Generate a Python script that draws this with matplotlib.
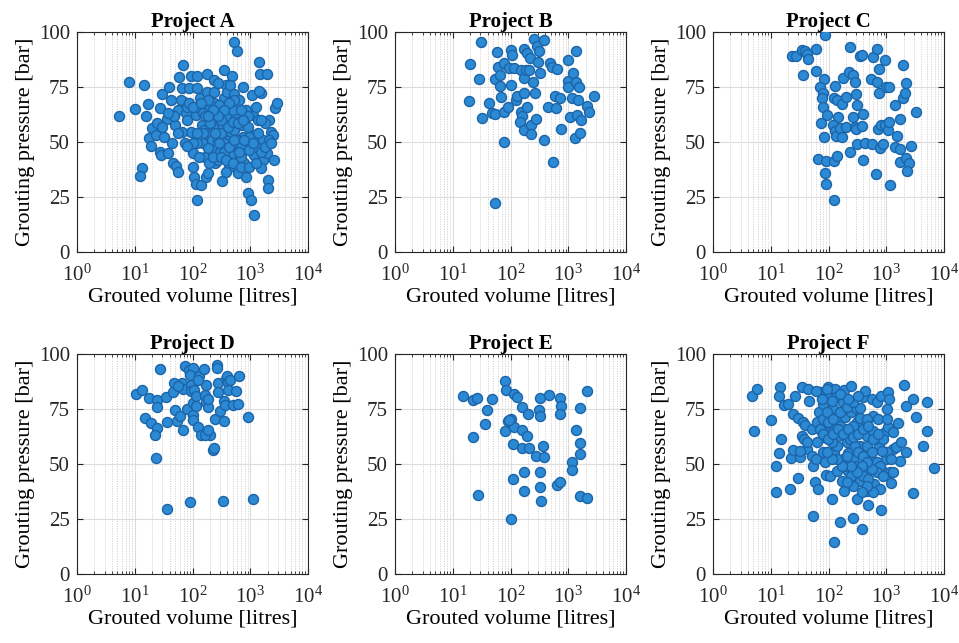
import matplotlib
matplotlib.use('Agg')
import matplotlib.pyplot as plt
from matplotlib.ticker import LogLocator, FixedLocator, NullLocator

plt.rcParams['font.family'] = ['Liberation Serif', 'DejaVu Serif']
plt.rcParams['mathtext.fontset'] = 'custom'
plt.rcParams['mathtext.rm'] = 'Liberation Serif'
plt.rcParams['mathtext.it'] = 'Liberation Serif:italic'
plt.rcParams['mathtext.bf'] = 'Liberation Serif:bold'

# --- data (volume in litres, pressure in bar) ---
a_volume = [5.4, 7.9, 10.2, 14.4, 15.4, 16.9, 13.3, 12.3, 19.9, 18, 19.4, 23, 24.6, 27.5, 30,
            27.5, 28, 32, 35.7, 39.3, 42, 37.7, 44.9, 45.5, 52.7, 55, 50, 55, 58.5, 64.5,
            69.5, 71.7, 76, 73.5, 81, 87.3, 93.5, 96, 101, 101, 107, 115, 122, 113, 120,
            122, 134, 144, 139, 155, 163, 170, 178, 178, 182, 198, 209, 233, 238, 245,
            233, 254, 272, 302, 318, 328, 355, 346, 380, 395, 405, 418, 435, 464, 490,
            516, 528, 589, 545, 568, 568, 605, 648, 693, 740, 770, 770, 845, 906, 1030,
            1180, 1070, 1100, 1100, 1180, 1260, 1350, 1440, 1500, 1550, 1650, 1650, 1550, 1960, 1960,
            2000, 2000, 2150, 2300, 2500, 2560, 2630, 2870, 1440, 63, 81, 122, 149, 160, 195,
            214, 272, 310, 355, 405, 500, 605, 528, 272, 195, 131, 122, 100, 693, 906,
            906, 845, 740, 452, 290, 500, 222, 182, 310, 67, 55, 48, 37, 30, 87,
            238, 272, 970, 1260, 1770, 2150, 380, 81, 182, 693,
            100, 139, 163, 203, 245, 290, 355, 435, 528, 648, 790, 970, 1100, 1350, 1550,
            906, 693, 528, 435, 355, 272, 222, 182, 149, 122, 182, 222, 310, 380, 500,
            693, 970, 1260, 1550, 1800, 2300, 405, 500, 605, 740]
a_pressure = [62, 77.4, 65.2, 75.8, 61.6, 67.2, 38.3, 34.7, 56.2, 51.7, 48.3, 53.2, 58.5, 65.3, 71.7,
              45.6, 44.1, 52.4, 60.3, 75.2, 69.1, 44.8, 49.7, 40.3, 39.2, 36.2, 57.8, 64.6, 79.5, 74.5,
              85.1, 68.4, 63.1, 49.4, 60, 74.5, 54.7, 80.2, 44.8, 38.8, 34.2, 30.9, 23.6, 62.3, 74.5,
              80.1, 69.9, 57.8, 30.4, 49.4, 43.3, 34.2, 81, 72.9, 64.6, 52.4, 60, 67.6, 47.1, 40.3,
              72.6, 63.1, 57, 45.6, 32.4, 63.1, 82.5, 69.9, 76, 72.9, 61.6, 50.9, 38.8, 54.7, 80.1,
              71.9, 95.3, 91.2, 63.1, 47.1, 42.1, 35.7, 69.1, 57.8, 52.4, 47.9, 40.3, 34.2, 26.9, 23.6,
              16.7, 71.4, 62.3, 53.2, 44.1, 65.8, 60, 86.2, 81, 72.2, 50.9, 41.8, 38, 81, 44.8,
              32.7, 29.2, 60, 54.7, 53.2, 41.8, 65.3, 67.6, 73, 69.1, 66.1, 66.1, 63.1, 55.5, 54.7,
              50.9, 50.9, 54, 49.4, 44.1, 44.8, 50.9, 55.5, 41.8, 40.3, 43.3, 49.4, 49.4, 43.3, 47.9,
              57, 64.6, 75.2, 76, 66.9, 64.6, 57, 69.1, 60, 54.7, 54, 61.6, 63.1, 57, 67.6,
              78.3, 76.7, 52.4, 47.9, 58.5, 50.9, 36.5, 48, 35.7, 47.9,
              66.1, 67.6, 61.6, 58.5, 54, 49.4, 45.6, 47.9, 50.9, 45.6, 50.9, 46.4, 49.4, 54, 60,
              61.6, 64.6, 69.1, 67.6, 64.6, 61.6, 64.6, 61.6, 54, 54, 47.1, 43.3, 43.3, 41.8, 40.3,
              38.8, 38.8, 40.3, 45.6, 47.9, 49.4, 57, 59.3, 58.5, 60]

b_volume = [20, 30.6, 19.5, 29, 32, 43, 48, 53.5, 53.5, 58, 61, 64.5, 64.5, 69, 76,
            76, 78, 54, 93, 91, 101, 105, 101, 115, 123, 129, 155, 169, 169, 173,
            192, 182, 149, 158, 190, 147, 169, 210, 214, 223, 225, 247, 251, 264, 274,
            289, 298, 306, 318, 373, 373, 444, 487, 526, 540, 578, 603, 635, 725, 755,
            980, 980, 980, 1080, 1140, 1200, 1340, 1310, 1340, 1410, 1490, 1520, 1570, 1650, 2100,
            2250, 2830]
b_pressure = [85.4, 95.3, 68.8, 78.7, 60.8, 67.9, 63, 62.6, 78.7, 91, 84.3, 80.4, 75.5, 70.4, 85.9,
              63.8, 50.2, 22.3, 83.6, 66.1, 91.6, 89.7, 76, 83.6, 69.1, 71, 82.8, 79, 72.5, 92.2,
              90.4, 82.8, 63.5, 62, 65.8, 59, 55.5, 82.5, 88.1, 57.6, 53.6, 77.5, 96.8, 72.2, 60.6,
              93.8, 86.5, 91.5, 81.5, 96.2, 50.9, 66.1, 85.9, 84, 41, 70.7, 65.3, 83.1, 69.9, 55.8,
              87.4, 77.8, 74.8, 61.5, 69.9, 81.3, 91.5, 51.8, 77.5, 62.3, 69.1, 75.2, 54, 60, 66.4,
              63.8, 71.1]

c_volume = [23.8, 27.9, 35.4, 38.9, 41.6, 44.6, 36.3, 61.9, 60.3, 85.3, 83, 70.9, 81, 76.6, 81,
            92.5, 72.8, 83, 66, 89.5, 86.5, 89.5, 123, 125, 141, 131, 124, 138, 148, 120,
            131, 134, 157, 174, 168, 179, 199, 204, 229, 240, 234, 268, 286, 268, 286,
            297, 307, 315, 297, 349, 379, 379, 388, 398, 433, 557, 536, 578, 680, 696,
            662, 720, 740, 760, 777, 820, 890, 950, 960, 986, 1130, 1080, 1130, 1150, 1420,
            1420, 1510, 1730, 1730, 1730, 1920, 1970, 2140, 2240, 2190, 2500, 2300, 2710, 3230]
c_pressure = [89.2, 88.9, 91.9, 91.2, 90.1, 87.7, 80.5, 92.2, 82.1, 98.5, 78.7, 74.9, 72.2, 69.9, 65.8,
              62.3, 58.8, 52.1, 42.2, 41.5, 36, 30.9, 23.6, 41.5, 43.8, 75.5, 69.9, 69.1, 61.2, 57.8,
              55.2, 52.7, 56.2, 52.1, 67.3, 79, 70.4, 56.7, 81.6, 45.6, 93.2, 80.5, 77.5, 61.5, 57,
              71.9, 66.9, 49.1, 55.8, 88.9, 89.7, 57.3, 41.8, 62.8, 49.7, 49.1, 78.6, 88.6, 77.4, 92.2,
              35.4, 55.8, 72.5, 83.1, 47.1, 57.8, 49.1, 57.8, 87.1, 74.9, 74.9, 55.5, 59.3, 30.4, 66.7,
              47.6, 52.7, 60.3, 46.7, 40.7, 84.8, 69.9, 72.2, 76.7, 42.6, 40.3, 36.9, 48.3, 63.8]

d_volume = [10.5, 13.3, 17.6, 24, 24, 27, 14.8, 19, 24.6, 22, 23.2, 34.4, 47, 45.6, 35.8,
            49.2, 54.8, 61, 69.7, 64.5, 69.7, 75.4, 87.4, 100, 91.2, 93.8, 96, 81.7, 100, 100,
            100, 107, 113, 113, 123, 139, 132, 159, 174, 164, 173, 182, 187, 197, 164,
            224, 238, 244, 265, 265, 271, 280, 294, 346, 355, 375, 388, 405, 450, 405,
            366, 497, 568, 642, 622, 930, 35.8, 89.8, 336, 1120, 123, 56, 182]
d_pressure = [82, 83.5, 80, 78.9, 75.9, 93.2, 70.9, 68.6, 66.4, 63.3, 52.7, 80.5, 86.8, 82.6, 69.1,
              74.7, 69.4, 71.7, 65.6, 86.8, 84.1, 94.7, 92.9, 93.6, 90.6, 86.1, 83, 75, 77.7, 72.4,
              70.2, 83.5, 80.8, 76.5, 66.8, 63.3, 90.2, 93.2, 86.1, 81.5, 78.3, 75.9, 79.5, 63.3, 63.3,
              56.2, 57.3, 70.5, 95.2, 93.6, 86.8, 82.6, 73.9, 69.4, 78.5, 88.6, 90.2, 87.1, 88.3, 83.5,
              77, 77, 83, 90.2, 77.4, 71.4, 29.7, 32.6, 33, 34.2, 88.3, 85.3, 65.6]

e_volume = [15.1, 22.8, 26.8, 22.3, 38.9, 35.5, 48.7, 27.5, 81, 83, 80, 89, 103, 113, 129,
            116, 110, 110, 102, 158, 158, 192, 158, 205, 173, 173, 203, 307, 326, 326,
            468, 280, 363, 383, 326, 326, 336, 726, 762, 726, 636, 707, 1150, 1170, 1380,
            1580, 1580, 1580, 1620, 2100, 2090, 96]
e_pressure = [80.9, 78.9, 80, 62.3, 74.7, 68.2, 79.5, 35.9, 87.9, 83.8, 64.8, 69.4, 70.5, 82, 80.5,
              66.8, 59.2, 43.2, 25, 75.9, 65.3, 62.6, 57.3, 57.3, 46.2, 37.6, 72.7, 74.4, 71.7, 80,
              81.5, 53.5, 58, 53, 46.2, 39.5, 33, 79.8, 76.2, 72.7, 40.3, 41.8, 50.9, 47.4, 65.3,
              59.5, 54.5, 75.5, 35.3, 34.5, 83, 70.2]

f_volume = [4.7, 5.8, 5.1, 10, 14.3, 14, 15.1, 13.8, 12.5, 12.2, 16.9, 20, 26, 35.3, 44.2,
            46, 24.4, 29.7, 36, 38.9, 22.5, 24.4, 29.7, 21.3, 32.7, 35.3, 37.4, 41.6, 50.9, 54.2,
            61.9, 57.4, 66.1, 54.2, 50.9, 62, 69, 70.7, 60, 81, 79, 76, 83, 92.5, 99,
            105, 113, 90, 105, 113, 124, 124, 129, 134, 120, 138, 147, 141, 158, 169,
            175, 185, 192, 185, 180, 185, 219, 219, 205, 241, 250, 261, 268, 275, 297,
            307, 316, 349, 357, 349, 387, 398, 426, 444, 456, 469, 487, 523, 560, 580,
            594, 612, 680, 728, 755, 780, 800, 820, 830, 945, 980, 1020, 1080, 1130, 1080,
            1150, 1190, 1320, 1470, 1620, 1730, 1770, 2030, 2240, 2240, 2930, 2860, 3250, 4370, 5010,
            5010, 6700, 92.5, 99, 120, 158, 205, 235, 287, 325, 398, 456, 560, 634, 680,
            780, 268, 205, 250, 307, 398, 487, 594, 138, 113, 158, 205, 349, 456,
            890, 1320, 1020, 41.6, 62, 79, 87, 31.6,
            70.7, 81, 98, 120, 147, 180, 219, 268, 325, 398, 487, 594, 728, 830, 680,
            560, 456, 373, 307, 250, 205, 169, 138, 113, 92.5, 268, 325, 219, 158, 113,
            92.5, 76, 1020, 1320, 1230, 890, 456, 373, 268, 205]
f_pressure = [81, 84.1, 65.2, 70, 85, 81, 61.4, 54.8, 49.2, 37.1, 76.8, 77.3, 81, 84.8, 84.1,
              78.8, 72.7, 70.8, 68.9, 67.7, 52.6, 56.5, 43.5, 38.6, 53, 62.9, 61.4, 56.8, 53.8, 49.2,
              52.3, 42, 38.6, 26.2, 65.9, 68.9, 73.5, 82.6, 83.3, 77.3, 70.5, 64.4, 62.1, 81, 84.8,
              67.4, 64.4, 45, 44.7, 34.1, 14.7, 55.6, 84.1, 80.3, 75.3, 70.5, 62.9, 47, 23.5, 42.4,
              78, 83.8, 71.2, 65.9, 52.3, 37.9, 47, 55, 59.8, 73.5, 85.6, 25.3, 52.3, 63.6, 75.3,
              68.9, 34.1, 70.8, 58.3, 42.4, 20.5, 80.3, 83.3, 47, 62.9, 37.9, 31.4, 52.6, 79.5, 72,
              65.2, 40.9, 78.3, 70.5, 58.3, 38.6, 29.2, 81, 47, 64.4, 52.3, 75, 82.9, 79.5, 66.7,
              46.2, 41.4, 56.8, 57.6, 68.6, 51.5, 59.8, 85.9, 76.5, 55.3, 36.8, 79.5, 71.2, 58.3, 78.3,
              65.2, 48, 73.5, 68.9, 70.5, 67.4, 64.4, 61.4, 58.3, 55.3, 53.8, 58.3, 55.3, 61.4, 50.8,
              49.2, 67.4, 49.2, 44.7, 49.2, 44.7, 43.2, 37.1, 58.3, 59.8, 73.5, 75.8, 75.3, 70.5,
              61.4, 46.2, 55.3, 59.8, 59.8, 55.3, 50.8, 56.1,
              65.9, 63.6, 61.4, 63.6, 65.9, 63.6, 65.9, 62.1, 63.6, 65.9, 67.4, 61.4, 63.6, 56.1, 46.2,
              47.7, 50.8, 49.2, 46.2, 49.2, 53.8, 49.2, 52.3, 52.3, 55.3, 78, 81, 79.5, 81.8, 78.8,
              84.1, 79.5, 70.5, 64.4, 52.3, 44.7, 40.2, 37.1, 40.2, 41.7]

projects = ['Project A', 'Project B', 'Project C', 'Project D', 'Project E', 'Project F']
volumes = [a_volume, b_volume, c_volume, d_volume, e_volume, f_volume]
pressures = [a_pressure, b_pressure, c_pressure, d_pressure, e_pressure, f_pressure]
y_ticks = [0, 25, 50, 75, 100]

W, H = 959, 643
fig = plt.figure(figsize=(W / 100, H / 100), dpi=100)

# axes boxes in pixels: left, top, width, height
lefts = [77, 395, 713]
tops = [32, 354]
ax_w, ax_h = 231, 220

for i, name in enumerate(projects):
    row, col = divmod(i, 3)
    l, t = lefts[col], tops[row]
    ax = fig.add_axes([l / W, 1 - (t + ax_h) / H, ax_w / W, ax_h / H])
    ax.scatter(volumes[i], pressures[i], s=52, c='#2C89D3', edgecolors='#1B64A8',
               linewidths=1.0, zorder=3)
    ax.set_xscale('log')
    ax.set_xlim(1, 1e4)
    ax.set_ylim(0, 100)
    ax.xaxis.set_major_locator(LogLocator(base=10, numticks=10))
    ax.xaxis.set_minor_locator(LogLocator(base=10, subs=range(2, 10), numticks=10))
    ax.yaxis.set_major_locator(FixedLocator(y_ticks))
    ax.yaxis.set_minor_locator(NullLocator())
    ax.grid(True, which='major', color='#dcdcdc', linewidth=0.8, linestyle='-', zorder=0)
    ax.grid(True, which='minor', axis='x', color='#d0d0d0', linewidth=0.6,
            linestyle=(0, (1.5, 1.5)), zorder=0)
    ax.tick_params(which='both', direction='in', top=True, right=True,
                   labelsize=15, colors='#262626', length=4)
    ax.tick_params(which='minor', length=2)
    ax.tick_params(axis='x', which='major', pad=9)
    ax.tick_params(axis='y', which='major', pad=5)
    for sp in ax.spines.values():
        sp.set_color('#262626')
        sp.set_linewidth(0.8)
    ax.set_axisbelow(True)
    ax.set_title(name, fontsize=15, fontweight='bold', pad=2)
    ax.set_xlabel('Grouted volume [litres]', fontsize=16, labelpad=1)
    ax.set_ylabel('Grouting pressure [bar]', fontsize=16, labelpad=3)

fig.savefig('out.png', dpi=100)
